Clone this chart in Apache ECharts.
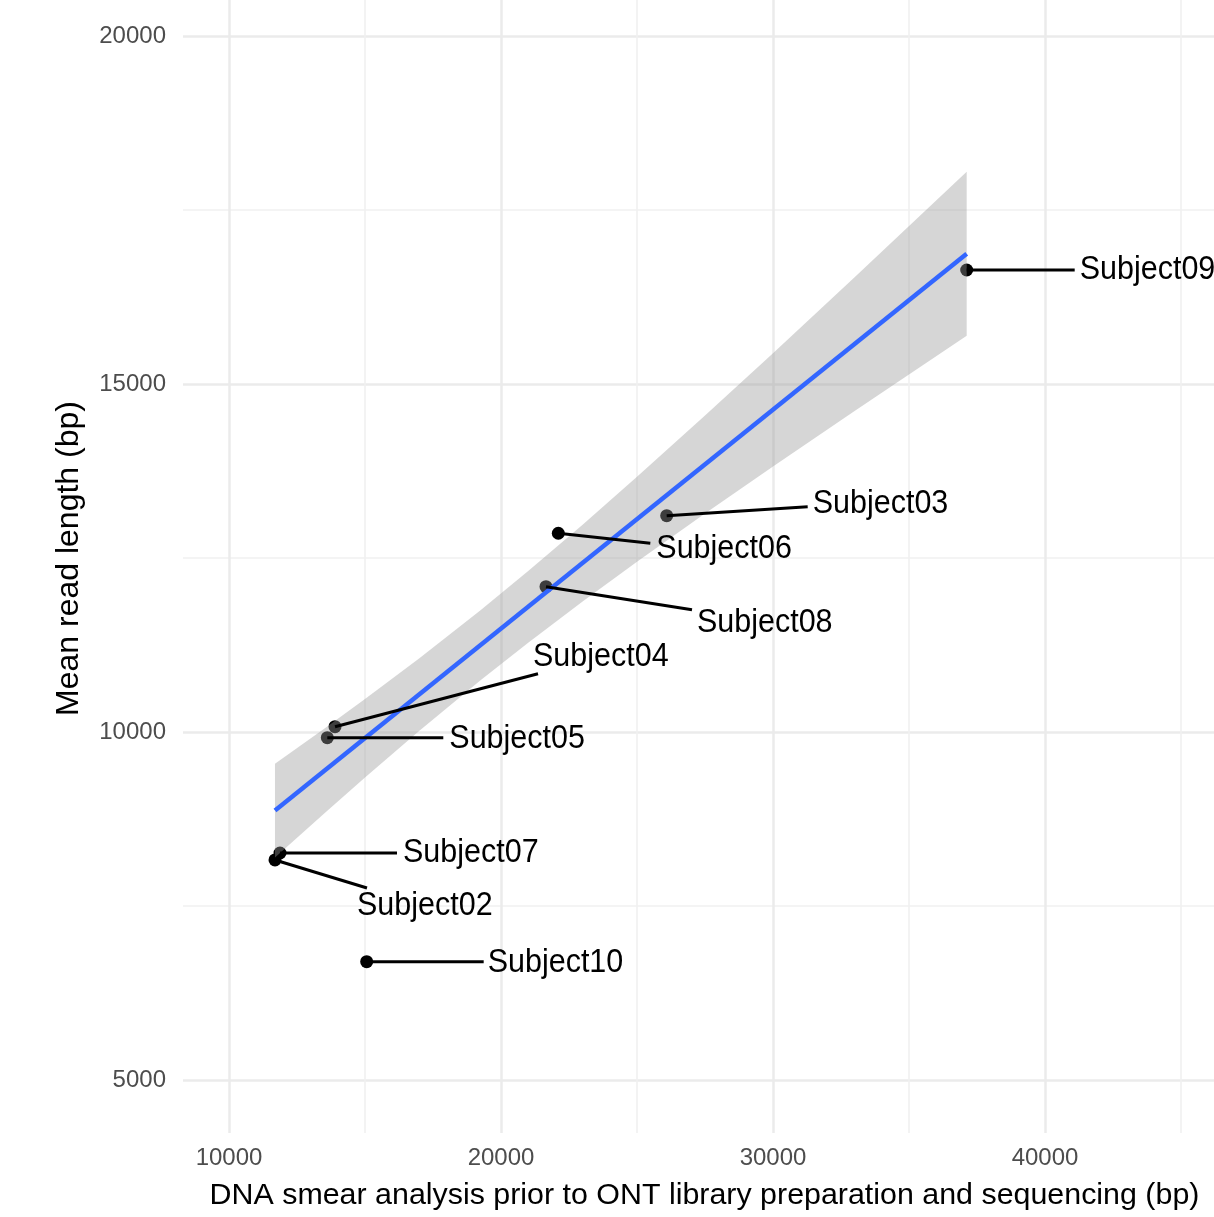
<!DOCTYPE html>
<html><head><meta charset="utf-8">
<script src="https://cdn.jsdelivr.net/npm/echarts@6/dist/echarts.min.js"></script>
<style>html,body{margin:0;padding:0;background:#fff}#c{width:1214px;height:1217px}</style>
</head><body><div id="c"></div>
<script>
// ---- data ----
const subjects   = ['Subject09','Subject03','Subject06','Subject08','Subject04','Subject05','Subject07','Subject02','Subject10'];
const smearBp    = [37121, 26092, 22107, 21654, 13897, 13614, 11875, 11691, 15062];
const meanReadBp = [16638, 13108, 12855, 12088, 10076,  9918,  8261,  8161,  6700];
// linear fit line and its confidence band
const fitX     = [11691, 37121];
const fitY     = [8870, 16870];
const bandX    = [11691, 13500, 15000, 17000, 19236, 21000, 23000, 25000, 27500, 30000, 33000, 37121];
const bandLow  = [8195,  8830,  9347, 10019, 10739, 11283, 11875, 12446, 13138, 13813, 14610, 15692];
const bandHigh = [9545, 10048, 10475, 11061, 11747, 12313, 12979, 13666, 14546, 15443, 16534, 18048];
// ticks
const xTicks = [10000, 20000, 30000, 40000];
const xMinor = [15000, 25000, 35000, 45000];
const yTicks = [5000, 10000, 15000, 20000];
const yMinor = [7500, 12500, 17500];

// ---- layout (pixel offsets of repelled labels: textDx, textDy, segEndDx, segEndDy) ----
const labelLayout = [
  [113, 0, 108, 0],
  [146, -12, 141, -9],
  [98, 15, 92, 10],
  [151, 36, 146, 23],
  [198, -70, 203, -53],
  [122, 1, 116, 0],
  [123, 0, 117, 0],
  [82, 46, 92, 28],
  [121, 1, 117, 0]
];

const FONT = '"Liberation Sans", Arial, Helvetica, sans-serif';
const X_MIN = 8309, X_MAX = 46213, Y_MIN = 4238, Y_MAX = 20517;

const chart = echarts.init(document.getElementById('c'), null, {renderer: 'canvas'});

const baseX = {
  type: 'value', min: X_MIN, max: X_MAX, gridIndex: 0,
  axisLine: {show: false}
};
const baseY = {
  type: 'value', min: Y_MIN, max: Y_MAX, gridIndex: 0,
  axisLine: {show: false}
};

chart.setOption({
  animation: false,
  backgroundColor: '#ffffff',
  textStyle: {fontFamily: FONT},
  grid: {left: 183, top: 0, right: 0, bottom: 84, containLabel: false},
  xAxis: [
    Object.assign({}, baseX, {
      name: 'DNA smear analysis prior to ONT library preparation and sequencing (bp)',
      nameLocation: 'middle', nameGap: 48,
      nameTextStyle: {color: '#000', fontSize: 30.4, fontFamily: FONT, padding: [0, 0, 0, 12]},
      axisTick: {show: false, customValues: xTicks},
      axisLabel: {show: true, customValues: xTicks, color: '#4d4d4d', fontSize: 24, margin: 13, fontFamily: FONT,
                  formatter: v => String(v)},
      splitLine: {show: true, lineStyle: {color: '#ebebeb', width: 2.5}}
    }),
    Object.assign({}, baseX, {
      axisTick: {show: false, customValues: xMinor},
      axisLabel: {show: false},
      splitLine: {show: true, lineStyle: {color: '#f0f0f0', width: 1.6}}
    })
  ],
  yAxis: [
    Object.assign({}, baseY, {
      name: 'Mean read length (bp)',
      nameLocation: 'middle', nameGap: 98, nameRotate: 90,
      nameTextStyle: {color: '#000', fontSize: 32, fontFamily: FONT, padding: [0, 0, 0, 16]},
      axisTick: {show: false, customValues: yTicks},
      axisLabel: {show: true, customValues: yTicks, color: '#4d4d4d', fontSize: 24, margin: 17, fontFamily: FONT,
                  formatter: v => String(v)},
      splitLine: {show: true, lineStyle: {color: '#ebebeb', width: 2.5}}
    }),
    Object.assign({}, baseY, {
      axisTick: {show: false, customValues: yMinor},
      axisLabel: {show: false},
      splitLine: {show: true, lineStyle: {color: '#f0f0f0', width: 1.6}}
    })
  ],
  series: [
    {
      type: 'scatter', z: 2, silent: true,
      xAxisIndex: 0, yAxisIndex: 0,
      symbolSize: 13,
      itemStyle: {color: '#000', opacity: 1},
      data: smearBp.map((x, i) => [x, meanReadBp[i]])
    },
    {
      type: 'custom', z: 3, silent: true,
      xAxisIndex: 0, yAxisIndex: 0,
      data: [[bandX[0], bandLow[0]]],
      renderItem: function (params, api) {
        const pts = [];
        for (let i = 0; i < bandX.length; i++) pts.push(api.coord([bandX[i], bandHigh[i]]));
        for (let i = bandX.length - 1; i >= 0; i--) pts.push(api.coord([bandX[i], bandLow[i]]));
        return {type: 'polygon', shape: {points: pts}, style: {fill: 'rgba(153,153,153,0.4)'}};
      }
    },
    {
      type: 'line', z: 4, silent: true,
      xAxisIndex: 0, yAxisIndex: 0,
      symbol: 'none',
      lineStyle: {color: '#3366FF', width: 4.5},
      data: fitX.map((x, i) => [x, fitY[i]])
    },
    {
      type: 'custom', z: 5, silent: true,
      xAxisIndex: 0, yAxisIndex: 0,
      encode: {x: 0, y: 1},
      data: smearBp.map((x, i) => [x, meanReadBp[i], i]),
      renderItem: function (params, api) {
        const i = api.value(2);
        const p = api.coord([api.value(0), api.value(1)]);
        const L = labelLayout[i];
        return {
          type: 'group',
          children: [
            {type: 'line', shape: {x1: p[0], y1: p[1], x2: p[0] + L[2], y2: p[1] + L[3]},
             style: {stroke: '#000', lineWidth: 3}},
            {type: 'text', x: p[0] + L[0], y: p[1] + L[1], scaleX: 0.91,
             style: {text: subjects[i], fill: '#000', fontSize: 33.5, fontFamily: FONT,
                     align: 'left', verticalAlign: 'middle'}}
          ]
        };
      }
    }
  ]
});
</script>
</body></html>
